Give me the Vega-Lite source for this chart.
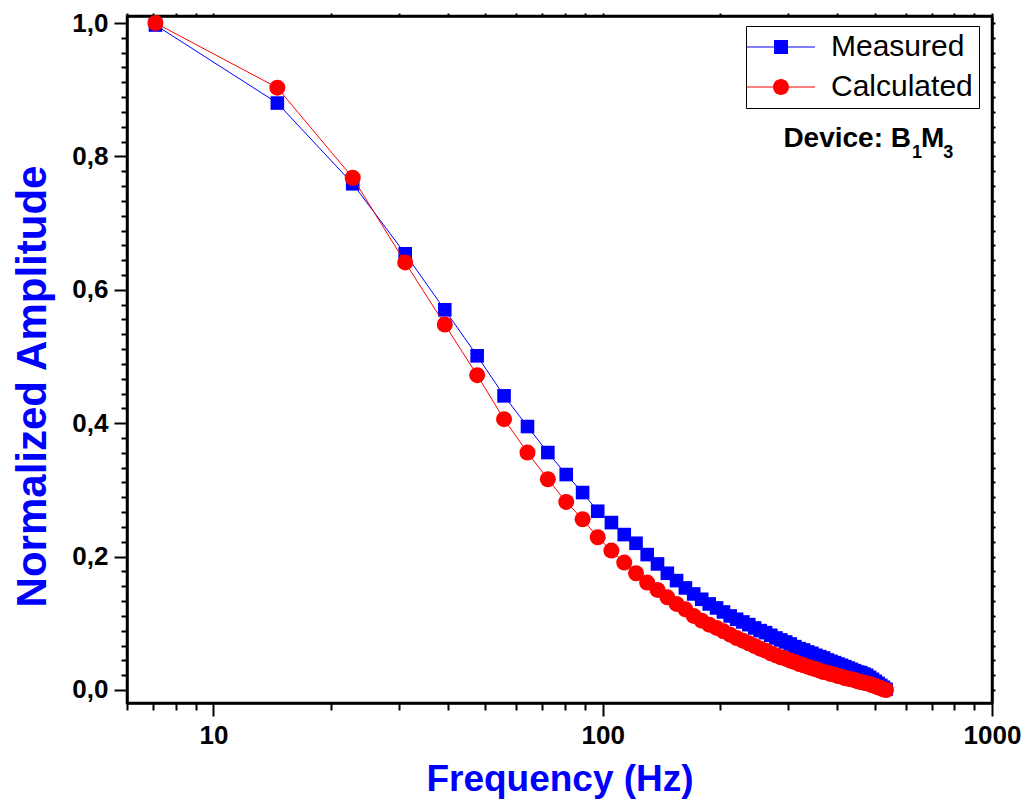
{
  "$schema": "https://vega.github.io/schema/vega-lite/v6.json",
  "width": 865,
  "height": 687,
  "autosize": {"type": "none"},
  "padding": {"left": 127, "top": 16, "right": 34, "bottom": 104},
  "background": "white",
  "config": {
    "view": {"stroke": "black", "strokeWidth": 2.5},
    "axis": {"grid": false, "domainColor": "black", "domainWidth": 2.5, "tickColor": "black", "tickWidth": 2, "labelColor": "black", "labelFlush": false, "labelOverlap": false},
    "font": "Liberation Sans"
  },
  "data": {
    "values": [
      {"f": 7.1, "Measured": 0.997, "Calculated": 1.0},
      {"f": 14.6, "Measured": 0.880, "Calculated": 0.903},
      {"f": 22.8, "Measured": 0.759, "Calculated": 0.768},
      {"f": 31.1, "Measured": 0.654, "Calculated": 0.641},
      {"f": 39.3, "Measured": 0.570, "Calculated": 0.548},
      {"f": 47.6, "Measured": 0.501, "Calculated": 0.472},
      {"f": 55.8, "Measured": 0.441, "Calculated": 0.406},
      {"f": 64.1, "Measured": 0.395, "Calculated": 0.356},
      {"f": 72.3, "Measured": 0.356, "Calculated": 0.316},
      {"f": 80.6, "Measured": 0.323, "Calculated": 0.282},
      {"f": 88.8, "Measured": 0.296, "Calculated": 0.256},
      {"f": 97.1, "Measured": 0.268, "Calculated": 0.229},
      {"f": 105.3, "Measured": 0.251, "Calculated": 0.209},
      {"f": 113.6, "Measured": 0.233, "Calculated": 0.191},
      {"f": 121.8, "Measured": 0.220, "Calculated": 0.175},
      {"f": 130.1, "Measured": 0.203, "Calculated": 0.161},
      {"f": 138.3, "Measured": 0.189, "Calculated": 0.150},
      {"f": 146.6, "Measured": 0.175, "Calculated": 0.139},
      {"f": 154.8, "Measured": 0.164, "Calculated": 0.129},
      {"f": 163.1, "Measured": 0.153, "Calculated": 0.121},
      {"f": 171.3, "Measured": 0.144, "Calculated": 0.111},
      {"f": 179.6, "Measured": 0.136, "Calculated": 0.104},
      {"f": 187.8, "Measured": 0.129, "Calculated": 0.098},
      {"f": 196.1, "Measured": 0.123, "Calculated": 0.093},
      {"f": 204.3, "Measured": 0.117, "Calculated": 0.088},
      {"f": 212.6, "Measured": 0.111, "Calculated": 0.083},
      {"f": 220.8, "Measured": 0.106, "Calculated": 0.078},
      {"f": 229.1, "Measured": 0.102, "Calculated": 0.074},
      {"f": 237.3, "Measured": 0.098, "Calculated": 0.070},
      {"f": 245.6, "Measured": 0.093, "Calculated": 0.066},
      {"f": 253.8, "Measured": 0.089, "Calculated": 0.062},
      {"f": 262.1, "Measured": 0.086, "Calculated": 0.059},
      {"f": 270.3, "Measured": 0.082, "Calculated": 0.055},
      {"f": 278.6, "Measured": 0.078, "Calculated": 0.052},
      {"f": 286.8, "Measured": 0.075, "Calculated": 0.049},
      {"f": 295.1, "Measured": 0.072, "Calculated": 0.047},
      {"f": 303.3, "Measured": 0.069, "Calculated": 0.044},
      {"f": 311.6, "Measured": 0.065, "Calculated": 0.042},
      {"f": 319.8, "Measured": 0.062, "Calculated": 0.039},
      {"f": 328.1, "Measured": 0.060, "Calculated": 0.037},
      {"f": 336.3, "Measured": 0.057, "Calculated": 0.035},
      {"f": 344.6, "Measured": 0.055, "Calculated": 0.033},
      {"f": 352.8, "Measured": 0.052, "Calculated": 0.031},
      {"f": 361.1, "Measured": 0.050, "Calculated": 0.029},
      {"f": 369.3, "Measured": 0.048, "Calculated": 0.027},
      {"f": 377.6, "Measured": 0.045, "Calculated": 0.026},
      {"f": 385.8, "Measured": 0.043, "Calculated": 0.024},
      {"f": 394.1, "Measured": 0.041, "Calculated": 0.023},
      {"f": 402.3, "Measured": 0.039, "Calculated": 0.021},
      {"f": 410.6, "Measured": 0.037, "Calculated": 0.020},
      {"f": 418.8, "Measured": 0.035, "Calculated": 0.018},
      {"f": 427.1, "Measured": 0.033, "Calculated": 0.017},
      {"f": 435.3, "Measured": 0.031, "Calculated": 0.016},
      {"f": 443.6, "Measured": 0.029, "Calculated": 0.015},
      {"f": 451.8, "Measured": 0.027, "Calculated": 0.013},
      {"f": 460.1, "Measured": 0.026, "Calculated": 0.012},
      {"f": 468.3, "Measured": 0.024, "Calculated": 0.011},
      {"f": 476.6, "Measured": 0.022, "Calculated": 0.010},
      {"f": 484.8, "Measured": 0.019, "Calculated": 0.009},
      {"f": 493.1, "Measured": 0.016, "Calculated": 0.007},
      {"f": 501.3, "Measured": 0.013, "Calculated": 0.006},
      {"f": 509.6, "Measured": 0.010, "Calculated": 0.004},
      {"f": 517.8, "Measured": 0.007, "Calculated": 0.003},
      {"f": 526.1, "Measured": 0.004, "Calculated": 0.001},
      {"f": 534.3, "Measured": 0.001, "Calculated": 0.0}
    ]
  },
  "transform": [{"fold": ["Measured", "Calculated"], "as": ["series", "amp"]}],
  "resolve": {"axis": {"x": "independent", "y": "independent"}},
  "layer": [
    {
      "transform": [{"filter": "datum.series === 'Measured'"}],
      "mark": {"type": "line", "color": "#0000ff", "strokeWidth": 1},
      "encoding": {
        "x": {
          "field": "f", "type": "quantitative",
          "scale": {"type": "log", "domain": [6, 1000], "nice": false},
          "axis": {
            "orient": "bottom", "values": [10, 100, 1000], "tickSize": 13, "format": "d",
            "labelFont": "Liberation Sans", "labelFontWeight": "bold", "labelFontSize": 26, "labelPadding": 6,
            "title": "Frequency (Hz)", "titleColor": "#0000ff", "titleFont": "Liberation Sans", "titleFontWeight": "bold", "titleFontSize": 37,
            "titleBaseline": "alphabetic", "titleY": 87, "titleX": 432.5, "titleAlign": "center"
          }
        },
        "y": {
          "field": "amp", "type": "quantitative",
          "scale": {"domain": [-0.0195, 1.0105], "nice": false, "zero": false},
          "axis": {
            "orient": "left", "values": [0, 0.2, 0.4, 0.6, 0.8, 1.0], "tickSize": 13,
            "labelExpr": "replace(format(datum.value, '.1f'), '.', ',')",
            "labelFont": "Liberation Sans", "labelFontWeight": "bold", "labelFontSize": 26, "labelPadding": 6,
            "title": "Normalized Amplitude", "titleColor": "#0000ff", "titleFont": "Liberation Sans", "titleFontWeight": "bold", "titleFontSize": 42,
            "titleAngle": -90, "titleBaseline": "alphabetic", "titleAlign": "center", "titleX": -82, "titleY": 370
          }
        }
      }
    },
    {
      "transform": [{"filter": "datum.series === 'Measured'"}],
      "mark": {"type": "point", "shape": "square", "filled": true, "size": 185, "color": "#0000ff", "opacity": 1, "strokeWidth": 0},
      "encoding": {
        "x": {
          "field": "f", "type": "quantitative",
          "axis": {"orient": "bottom", "labels": false, "title": null, "domain": false, "tickSize": 7,
            "values": [6, 7, 8, 9, 20, 30, 40, 50, 60, 70, 80, 90, 200, 300, 400, 500, 600, 700, 800, 900]}
        },
        "y": {
          "field": "amp", "type": "quantitative",
          "axis": {"orient": "left", "labels": false, "title": null, "domain": false, "tickSize": 6,
            "values": [0.02222, 0.04444, 0.06667, 0.08889, 0.11111, 0.13333, 0.15556, 0.17778, 0.22222, 0.24444, 0.26667, 0.28889, 0.31111, 0.33333, 0.35556, 0.37778, 0.42222, 0.44444, 0.46667, 0.48889, 0.51111, 0.53333, 0.55556, 0.57778, 0.62222, 0.64444, 0.66667, 0.68889, 0.71111, 0.73333, 0.75556, 0.77778, 0.82222, 0.84444, 0.86667, 0.88889, 0.91111, 0.93333, 0.95556, 0.97778]}
        }
      }
    },
    {
      "transform": [{"filter": "datum.series === 'Calculated'"}],
      "mark": {"type": "line", "color": "#ff0000", "strokeWidth": 1},
      "encoding": {
        "x": {
          "field": "f", "type": "quantitative",
          "axis": {"orient": "top", "labels": false, "title": null, "tickSize": 3,
            "values": [6, 7, 8, 9, 10, 20, 30, 40, 50, 60, 70, 80, 90, 100, 200, 300, 400, 500, 600, 700, 800, 900, 1000]}
        },
        "y": {
          "field": "amp", "type": "quantitative",
          "axis": {"orient": "right", "labels": false, "title": null, "tickSize": 3,
            "values": [0, 0.02222, 0.04444, 0.06667, 0.08889, 0.11111, 0.13333, 0.15556, 0.17778, 0.2, 0.22222, 0.24444, 0.26667, 0.28889, 0.31111, 0.33333, 0.35556, 0.37778, 0.4, 0.42222, 0.44444, 0.46667, 0.48889, 0.51111, 0.53333, 0.55556, 0.57778, 0.6, 0.62222, 0.64444, 0.66667, 0.68889, 0.71111, 0.73333, 0.75556, 0.77778, 0.8, 0.82222, 0.84444, 0.86667, 0.88889, 0.91111, 0.93333, 0.95556, 0.97778, 1.0]}
        }
      }
    },
    {
      "transform": [{"filter": "datum.series === 'Calculated'"}],
      "mark": {"type": "point", "shape": "circle", "filled": true, "size": 256, "color": "#ff0000", "opacity": 1, "strokeWidth": 0},
      "encoding": {
        "x": {"field": "f", "type": "quantitative", "axis": null},
        "y": {"field": "amp", "type": "quantitative", "axis": null}
      }
    },
    {
      "transform": [{"filter": "datum.amp > 5"}],
      "mark": {"type": "point", "filled": true, "size": 256, "opacity": 1, "strokeWidth": 0},
      "encoding": {
        "color": {
          "field": "series", "type": "nominal",
          "scale": {"domain": ["Measured", "Calculated"], "range": ["#0000ff", "#ff0000"]},
          "legend": {
            "title": null, "orient": "none", "legendX": 619, "legendY": 10,
            "strokeColor": "black", "fillColor": "white", "padding": 6, "cornerRadius": 0,
            "symbolSize": 256, "symbolStrokeWidth": 0, "symbolOpacity": 1,
            "labelFont": "Liberation Sans", "labelFontSize": 30, "labelColor": "black", "labelOffset": 49, "rowPadding": 10, "labelLimit": 300
          }
        },
        "shape": {
          "field": "series", "type": "nominal",
          "scale": {"domain": ["Measured", "Calculated"], "range": ["M-2.5,-0.0625H6V0.0625H-2.5Z M0.875,-0.875H2.625V0.875H0.875Z", "M-2.5,-0.0625H6V0.0625H-2.5Z M2.75,0A1,1 0 1,1 0.75,0A1,1 0 1,1 2.75,0Z"]},
          "legend": {
            "title": null, "orient": "none", "legendX": 619, "legendY": 10,
            "strokeColor": "black", "fillColor": "white", "padding": 6, "cornerRadius": 0,
            "symbolSize": 256, "symbolStrokeWidth": 0, "symbolOpacity": 1,
            "labelFont": "Liberation Sans", "labelFontSize": 30, "labelColor": "black", "labelOffset": 49, "rowPadding": 10, "labelLimit": 300
          }
        }
      }
    },
    {
      "data": {"values": [{}]},
      "mark": {"type": "text", "align": "right", "baseline": "alphabetic", "font": "Liberation Sans", "fontWeight": "bold", "fontSize": 28, "color": "black"},
      "encoding": {
        "text": {"value": "Device: B"},
        "x": {"datum": 619.4, "type": "quantitative", "axis": null},
        "y": {"datum": 0.8143, "type": "quantitative", "axis": null}
      }
    },
    {
      "data": {"values": [{}]},
      "mark": {"type": "text", "align": "left", "baseline": "alphabetic", "font": "Liberation Sans", "fontWeight": "bold", "fontSize": 18, "color": "black"},
      "encoding": {
        "text": {"value": "1"},
        "x": {"datum": 623.1, "type": "quantitative", "axis": null},
        "y": {"datum": 0.7983, "type": "quantitative", "axis": null}
      }
    },
    {
      "data": {"values": [{}]},
      "mark": {"type": "text", "align": "left", "baseline": "alphabetic", "font": "Liberation Sans", "fontWeight": "bold", "fontSize": 28, "color": "black"},
      "encoding": {
        "text": {"value": "M"},
        "x": {"datum": 657.0, "type": "quantitative", "axis": null},
        "y": {"datum": 0.8143, "type": "quantitative", "axis": null}
      }
    },
    {
      "data": {"values": [{}]},
      "mark": {"type": "text", "align": "left", "baseline": "alphabetic", "font": "Liberation Sans", "fontWeight": "bold", "fontSize": 18, "color": "black"},
      "encoding": {
        "text": {"value": "3"},
        "x": {"datum": 749.6, "type": "quantitative", "axis": null},
        "y": {"datum": 0.7983, "type": "quantitative", "axis": null}
      }
    }
  ]
}
